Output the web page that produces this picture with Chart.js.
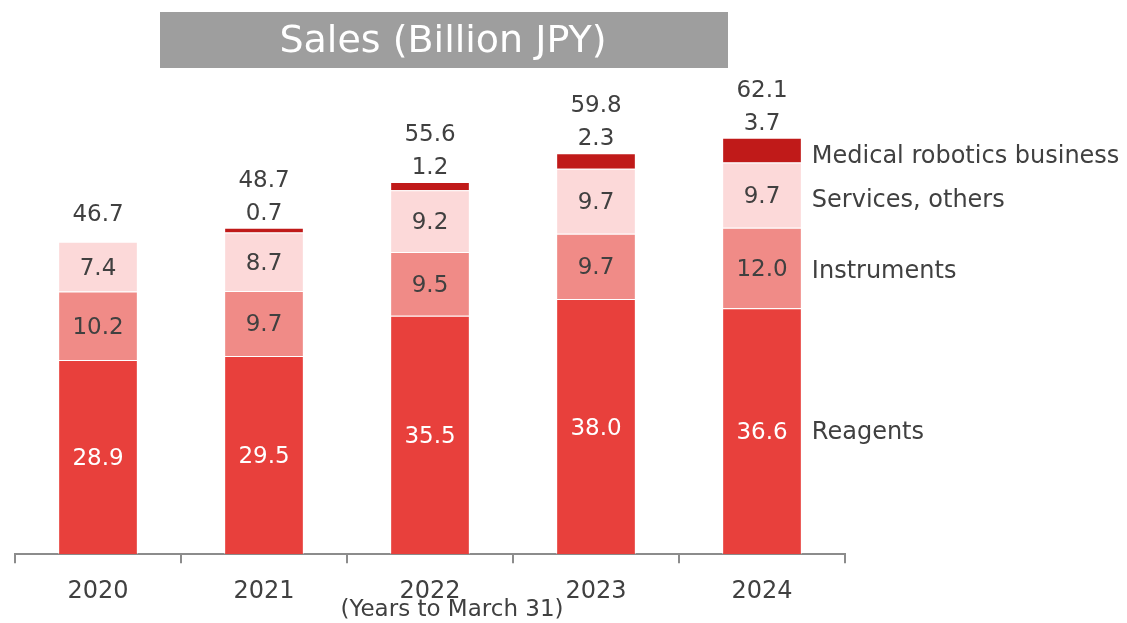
<!DOCTYPE html>
<html>
<head>
<meta charset="utf-8">
<script src="https://cdn.jsdelivr.net/npm/chart.js@4"></script>
<style>
  html, body { margin: 0; padding: 0; background: #fff; }
  #wrap { position: relative; width: 1127px; height: 623px; }
</style>
</head>
<body>
<div id="wrap"><canvas id="chart_sales" width="1127" height="623"></canvas></div>
<script>
const years = ['2020', '2021', '2022', '2023', '2024'];
const reagents = [28.9, 29.5, 35.5, 38.0, 36.6];
const instruments = [10.2, 9.7, 9.5, 9.7, 12.0];
const services = [7.4, 8.7, 9.2, 9.7, 9.7];
const medical = [0, 0.7, 1.2, 2.3, 3.7];
const totals = [46.7, 48.7, 55.6, 59.8, 62.1];
const seriesNames = ['Reagents', 'Instruments', 'Services, others', 'Medical robotics business'];

const textColor = '#404040';
const fontName = '"DejaVu Sans", sans-serif';

// labels inside / above the bars, series names at the right, title box
const labelPlugin = {
    id: 'salesLabels',
    afterDatasetsDraw(chart) {
        const ctx = chart.ctx;
        ctx.save();
        ctx.textAlign = 'center';
        ctx.textBaseline = 'middle';
        ctx.font = '23px ' + fontName;
        // values inside segments (first three datasets)
        for (let d = 0; d < 3; d++) {
            const meta = chart.getDatasetMeta(d);
            meta.data.forEach(function(bar, i) {
                const v = chart.data.datasets[d].data[i];
                ctx.fillStyle = d === 0 ? '#ffffff' : textColor;
                ctx.fillText(v.toFixed(1), bar.x, (bar.y + bar.base) / 2 + 2);
            });
        }
        // medical value and totals above bars
        const medMeta = chart.getDatasetMeta(3);
        medMeta.data.forEach(function(bar, i) {
            ctx.fillStyle = textColor;
            const top = bar.y;
            if (medical[i] > 0) {
                const my = top - 14;
                ctx.fillText(medical[i].toFixed(1), bar.x, my);
                ctx.fillText(totals[i].toFixed(1), bar.x, my - 33);
            } else {
                ctx.fillText(totals[i].toFixed(1), bar.x, top - 27);
            }
        });
        // series names next to last bar
        ctx.textAlign = 'left';
        ctx.font = '24px ' + fontName;
        const last = years.length - 1;
        const nameShift = [1, 4, 6, 7];
        for (let d = 0; d < 4; d++) {
            const bar = chart.getDatasetMeta(d).data[last];
            ctx.fillStyle = textColor;
            ctx.fillText(seriesNames[d], bar.x + bar.width / 2 + 10, (bar.y + bar.base) / 2 + nameShift[d]);
        }
        // axis note
        ctx.textAlign = 'center';
        ctx.font = '23px ' + fontName;
        ctx.fillText('(Years to March 31)', 452, 610);
        // title box
        ctx.fillStyle = '#9e9e9e';
        ctx.fillRect(160, 12, 568, 56);
        ctx.fillStyle = '#ffffff';
        ctx.font = '38px ' + fontName;
        ctx.fillText('Sales (Billion JPY)', 443, 42);
        ctx.restore();
    }
};

let ctxSales = document.getElementById('chart_sales').getContext('2d');
let chartSales = new Chart(ctxSales, {
    type: 'bar',
    data: {
        labels: years,
        datasets: [
            { label: seriesNames[0], data: reagents, backgroundColor: '#e8403c' },
            { label: seriesNames[1], data: instruments, backgroundColor: '#f08b87' },
            { label: seriesNames[2], data: services, backgroundColor: '#fcd9d9' },
            { label: seriesNames[3], data: medical, backgroundColor: '#c01a19' }
        ]
    },
    options: {
        responsive: false,
        animation: false,
        layout: { padding: { left: 15, right: 282, top: 84, bottom: 3 } },
        datasets: {
            bar: {
                categoryPercentage: 1,
                barPercentage: 0.48,
                borderWidth: 1,
                borderColor: 'rgba(255,255,255,0.55)'
            }
        },
        plugins: {
            legend: { display: false },
            tooltip: { enabled: false }
        },
        scales: {
            x: {
                stacked: true,
                grid: { display: true, drawOnChartArea: false, offset: true, tickLength: 9, color: '#8c8c8c', lineWidth: 2 },
                border: { display: true, color: '#8c8c8c', width: 2 },
                ticks: { color: textColor, font: { family: fontName, size: 24 }, padding: 14 }
            },
            y: {
                stacked: true,
                display: false,
                min: 0,
                max: 70
            }
        }
    },
    plugins: [labelPlugin]
});
</script>
</body>
</html>
